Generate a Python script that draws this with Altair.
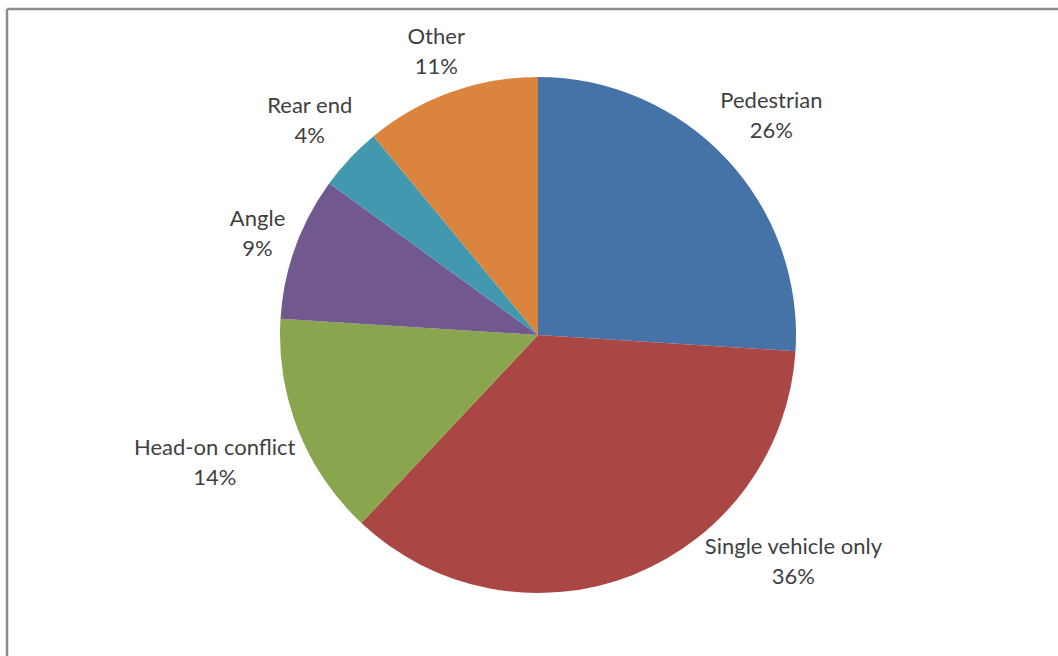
import math
import altair as alt
import pandas as pd

# Crash types, listed clockwise from 12 o'clock
categories = ["Pedestrian", "Single vehicle only", "Head-on conflict", "Angle", "Rear end", "Other"]
shares = [26, 36, 14, 9, 4, 11]
colors = ["#4572A7", "#AA4643", "#89A54E", "#71588F", "#4198AF", "#DB843D"]

PIE_R = 258        # pie radius, px
GAP = 8            # space between the pie edge and a label box, px
LINE_H = 30        # label line height, px
CHAR_W = 9.6       # rough advance of one label character, px
MAX_DROP = 227     # lowest a label centre may sit below the pie centre, px

df = pd.DataFrame({
    "type": categories,
    "share": shares,
    "order": list(range(len(categories))),
})
df["pct"] = df["share"].astype(str) + "%"
df["label"] = df["type"] + "\n" + df["pct"]

# Each label box sits just outside the pie, on the ray through the middle
# of its slice.  A box that would fall off the bottom is raised to the
# lowest allowed line and slid sideways until its inner corner clears the pie.
total = df["share"].sum()
ends = df["share"].cumsum() / total * 2 * math.pi
mids = ends - df["share"] / total * math.pi


def box_dist(a, w, h):
    return PIE_R + GAP + abs(math.sin(a)) * w / 2 + abs(math.cos(a)) * h / 2


thetas, radii = [], []
for a, name, pct in zip(mids, df["type"], df["pct"]):
    w = CHAR_W * max(len(name), len(pct))
    h = LINE_H + 26
    r = box_dist(a, w, h)
    if -math.cos(a) * r > MAX_DROP:
        corner_y = MAX_DROP - h / 2
        xc = math.sqrt(PIE_R ** 2 - corner_y ** 2) + w / 2
        if a > math.pi:
            xc = -xc
        a = math.atan2(xc, -MAX_DROP) % (2 * math.pi)
        r = math.hypot(xc, MAX_DROP)
    thetas.append(a)
    radii.append(r)
df["label_theta"] = thetas
df["label_r"] = radii

slices = alt.Chart(df).mark_arc(radius=PIE_R).encode(
    theta=alt.Theta("share:Q", stack=True),
    order=alt.Order("order:Q"),
    color=alt.Color("type:N", scale=alt.Scale(domain=categories, range=colors), legend=None),
)

labels = alt.Chart(df).mark_text(
    font="Lato",
    fontSize=22,
    lineHeight=LINE_H,
    lineBreak="\n",
    color="#3f3f3f",
    align="center",
    baseline="middle",
    dy=-LINE_H / 2,
).encode(
    theta=alt.Theta("label_theta:Q", scale=None),
    radius=alt.Radius("label_r:Q", scale=None),
    text="label:N",
)

# Grey frame along the top and left edges of the canvas
frame_df = pd.DataFrame({"f": [0]})
top_edge = alt.Chart(frame_df).mark_rule(color="#8c8c8c", strokeWidth=2.5).encode(
    x=alt.value(-13), x2=alt.value(1040), y=alt.value(-5)
)
left_edge = alt.Chart(frame_df).mark_rule(color="#8c8c8c", strokeWidth=2.5).encode(
    x=alt.value(-13), y=alt.value(-5), y2=alt.value(650)
)

chart = alt.layer(top_edge, left_edge, slices, labels).properties(
    width=1036,
    height=642,
    background="white",
    padding={"left": 20, "right": 2, "top": 14, "bottom": 0},
    autosize=alt.AutoSizeParams(type="none"),
).configure_view(strokeWidth=0, stroke="transparent")

chart.save("out.html", embed_options={"renderer": "svg", "actions": False})
